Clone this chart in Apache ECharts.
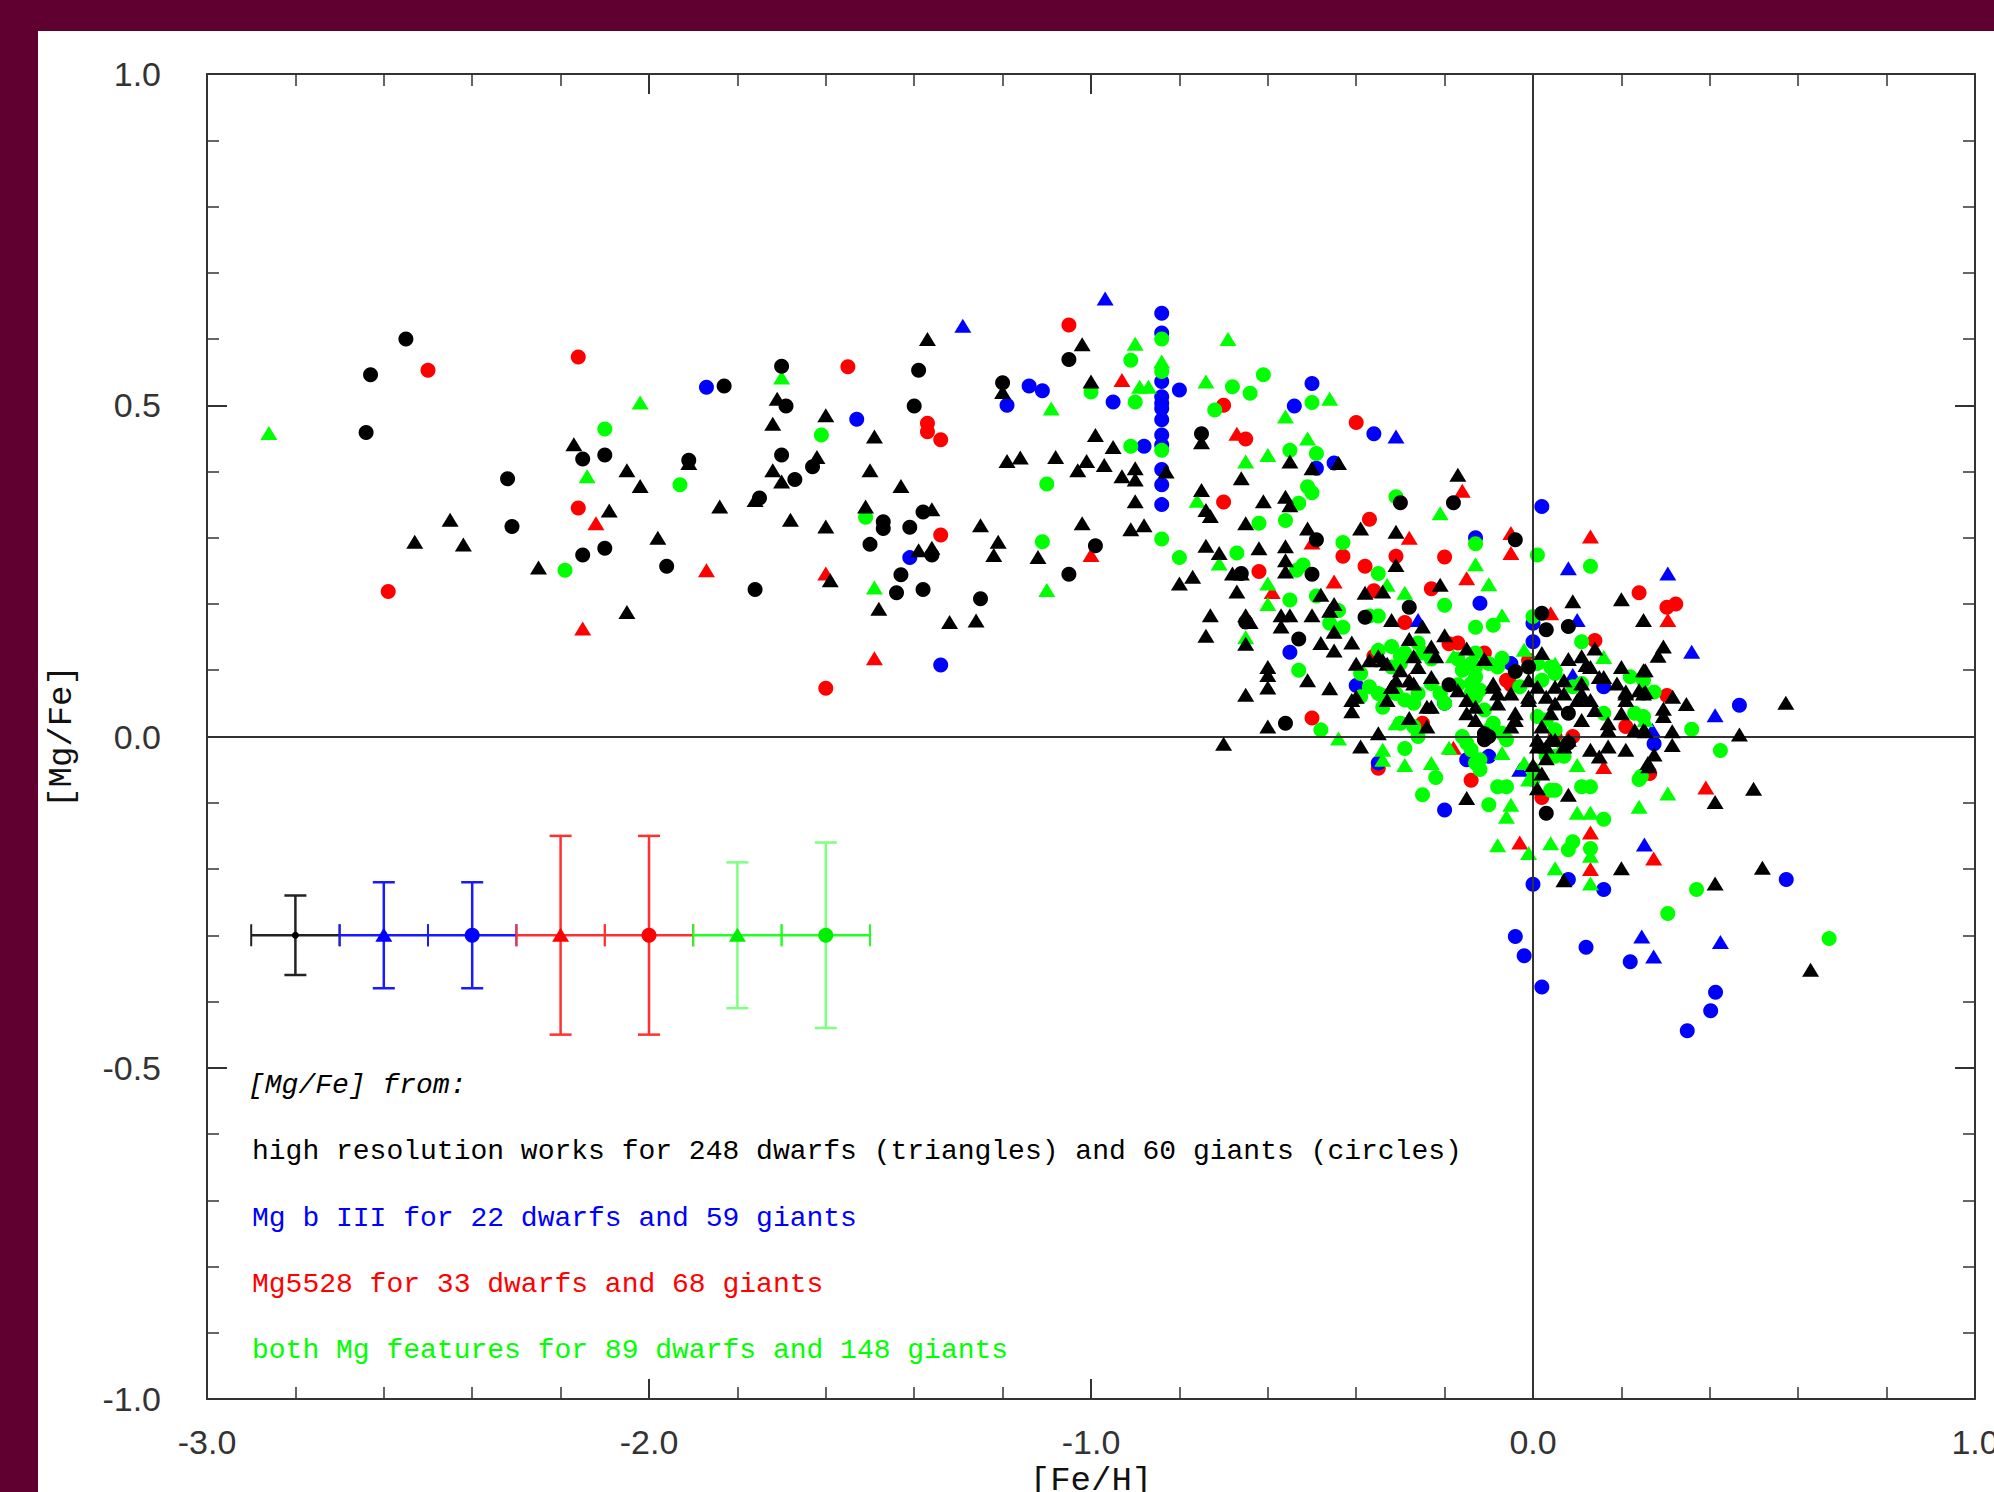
<!DOCTYPE html>
<html>
<head>
<meta charset="utf-8">
<script src="https://cdn.jsdelivr.net/npm/echarts@6/dist/echarts.min.js"></script>
<style>
html,body{margin:0;padding:0;background:#600030;}
#chart{width:1994px;height:1492px;}
</style>
</head>
<body>
<div id="chart"></div>
<script>
// ---------------- DATA ----------------
const xTickLabels = ['-3.0','-2.0','-1.0','0.0','1.0'];
const yTickLabels = ['-1.0','-0.5','0.0','0.5','1.0'];

// [Fe/H], [Mg/Fe]
const blackTriangles = [
[-2.17,0.441],[-2.05,0.402],[-2.02,0.378],[-2.09,0.341],[-2.45,0.327],[-2.53,0.294],[-2.42,0.290],[-2.25,0.255],[-2.05,0.188],[-1.98,0.30],
[-1.37,0.60],[-1.20,0.52],[-1.71,0.51],[-1.60,0.485],[-1.72,0.472],[-1.49,0.453],[-1.91,0.413],[-1.62,0.422],[-1.72,0.402],[-1.70,0.385],
[-1.50,0.402],[-1.43,0.378],[-1.19,0.416],[-1.16,0.421],[-1.76,0.357],[-1.84,0.347],[-1.51,0.347],[-1.36,0.343],[-1.68,0.327],[-1.60,0.317],
[-1.25,0.319],[-1.21,0.294],[-1.22,0.274],[-1.12,0.271],[-1.39,0.281],[-1.36,0.285],[-1.59,0.236],[-1.48,0.193],[-1.32,0.173],[-1.26,0.175],
[-1.02,0.592],[-1.00,0.536],[-0.99,0.455],[-0.95,0.437],[-0.75,0.444],[-0.55,0.415],[-0.50,0.405],[-0.44,0.413],[-1.08,0.422],[-1.03,0.402],
[-1.01,0.416],[-0.97,0.41],[-0.93,0.393],[-0.90,0.405],[-0.90,0.388],[-0.83,0.40],[-0.90,0.355],[-1.02,0.322],[-0.91,0.313],[-0.88,0.319],
[-0.75,0.372],[-0.74,0.342],[-0.73,0.333],[-0.66,0.39],[-0.61,0.355],[-0.56,0.362],[-0.55,0.349],[-0.65,0.322],[-0.51,0.314],[-0.74,0.288],
[-0.71,0.277],[-0.62,0.284],[-0.56,0.287],[-0.56,0.266],[-0.56,0.249],[-0.80,0.231],[-0.77,0.241],[-0.68,0.246],[-0.66,0.246],[-0.67,0.219],
[-0.48,0.214],[-0.45,0.20],[-0.73,0.183],[-0.65,0.183],[-0.57,0.183],[-0.55,0.183],[-0.50,0.183],[-0.46,0.19],
[-0.74,0.152],[-0.64,0.173],[-0.65,0.14],[-0.57,0.166],[-0.60,0.105],[-0.60,0.093],[-0.60,0.074],[-0.65,0.063],[-0.51,0.085],[-0.46,0.073],
[-0.60,0.015],[-0.70,-0.011],[-0.48,0.141],[-0.45,0.13],[-0.45,0.158],
[-0.17,0.395],[-0.39,0.314],[-0.31,0.309],[-0.31,0.259],[-0.38,0.217],[-0.34,0.219],[-0.21,0.229],[0.09,0.204],[0.20,0.207],[0.25,0.176],
[-0.32,0.176],[-0.25,0.166],[-0.41,0.142],[-0.28,0.147],[-0.23,0.136],[-0.20,0.153],[-0.15,0.133],[0.02,0.126],[0.14,0.133],[-0.40,0.11],
[-0.27,0.121],[-0.34,0.115],[-0.33,0.11],[-0.11,0.117],[0.08,0.117],[0.11,0.121],[0.12,0.108],[0.20,0.105],[0.25,0.10],[0.15,0.09],
[0.21,0.068],[-0.31,0.085],[-0.40,0.06],[-0.32,0.075],[-0.35,0.121],[-0.37,0.115],[-0.30,0.10],[-0.26,0.105],[-0.23,0.09],[-0.22,0.121],
[-0.28,0.085],[-0.01,0.085],[0.05,0.075],[0.07,0.085],[0.11,0.08],[0.13,0.105],[0.16,0.09],[0.07,0.065],[0.11,0.06],[-0.09,0.08],
[-0.08,0.065],[-0.01,0.06],[0.19,0.08],[0.24,0.07],[0.21,0.055],
[-0.39,-0.015],[-0.35,0.005],[-0.15,-0.093],[0.00,-0.043],[0.02,-0.056],[0.01,-0.078],[0.03,-0.033],[0.08,-0.088],[0.07,-0.217],[0.20,-0.199],
[-0.41,0.055],[-0.41,0.038],[-0.33,0.055],[-0.28,0.028],[-0.24,0.015],[-0.32,0.075],[-0.27,0.08],[-0.23,0.045],[-0.24,0.045],[-0.17,0.07],
[-0.15,0.055],[-0.15,0.035],[-0.13,0.045],[-0.13,0.025],[-0.09,0.075],[-0.08,0.05],[-0.05,0.065],[-0.04,0.035],[-0.04,0.025],[-0.05,0.015],
[-0.01,0.055],[0.01,0.075],[0.03,0.06],[0.04,0.035],[0.05,0.05],[0.02,0.015],[0.04,-0.005],[0.01,-0.005],[0.05,-0.005],[0.07,-0.015],
[0.08,-0.005],[0.10,0.055],[0.11,0.065],[0.13,0.055],[0.14,0.04],[0.11,0.025],[0.13,-0.02],[0.15,-0.03],[0.17,-0.015],[0.21,-0.02],
[0.17,0.02],[0.17,0.01],[0.20,0.035],[0.21,0.065],[0.23,0.01],[0.25,0.01],[0.25,0.065],[0.26,-0.04],[0.01,-0.015],[0.03,-0.015],
[0.295,0.136],[0.283,0.122],[0.254,0.10],[0.254,0.067],[0.316,0.06],[0.347,0.049],[0.295,0.042],[0.295,0.031],[0.572,0.051],[0.315,0.008],
[0.467,0.003],[0.254,0.008],[0.315,-0.013],[0.274,-0.027],[0.262,-0.045],[0.412,-0.099],[0.499,-0.079],[0.519,-0.198],[0.412,-0.222],[0.628,-0.352]
];
const blackCircles = [
[-2.55,0.60],[-2.63,0.546],[-2.64,0.459],[-2.15,0.419],[-2.10,0.425],[-2.32,0.389],[-2.31,0.317],[-2.15,0.274],[-2.10,0.284],
[-1.70,0.559],[-1.39,0.553],[-1.83,0.529],[-1.69,0.499],[-1.40,0.499],[-1.20,0.534],[-1.91,0.417],[-1.70,0.425],[-1.63,0.407],[-1.67,0.388],
[-1.75,0.36],[-1.47,0.324],[-1.47,0.314],[-1.41,0.316],[-1.38,0.339],[-1.50,0.29],[-1.36,0.274],[-1.96,0.257],[-1.43,0.244],[-1.76,0.222],
[-1.44,0.217],[-1.38,0.222],[-1.25,0.208],
[-1.05,0.569],[-0.75,0.457],[-0.99,0.288],[-1.05,0.245],[-0.49,0.297],[-0.50,0.245],[-0.66,0.246],
[-0.65,0.173],[-0.53,0.147],[-0.56,0.02],
[-0.30,0.353],[-0.18,0.353],[-0.04,0.297],[-0.28,0.195],[-0.38,0.18],[0.02,0.186],[0.03,0.161],[0.08,0.166],[-0.01,0.105],[-0.04,0.098],
[-0.19,0.078],[-0.10,0.0],[-0.11,0.004],[0.03,-0.116],[0.08,-0.01],[0.08,0.035],[-0.11,-0.005]
];
const blueTriangles = [
[-1.29,0.620],[-0.968,0.661],[-0.31,0.453],[0.08,0.254],[-0.26,0.176],[0.10,0.176],[0.09,0.093],[0.305,0.246],[0.359,0.128],[0.412,0.032],
[0.27,0.01],[0.252,-0.163],[0.246,-0.302],[0.424,-0.310],[0.273,-0.332],[-0.03,-0.05]
];
const blueCircles = [
[-1.87,0.527],[-1.14,0.529],[-1.11,0.522],[-1.19,0.50],[-1.53,0.479],[-1.41,0.27],[-1.34,0.108],[-0.84,0.639],[-0.84,0.609],[-0.84,0.536],
[-0.80,0.523],[-0.95,0.505],[-0.84,0.513],[-0.84,0.503],[-0.84,0.495],[-0.84,0.478],[-0.84,0.455],[-0.88,0.438],[-0.84,0.44],[-0.84,0.403],
[-0.84,0.38],[-0.84,0.35],[-0.50,0.533],[-0.54,0.499],[-0.49,0.405],[-0.45,0.413],[-0.55,0.127],[-0.36,0.457],[0.02,0.347],[-0.13,0.30],
[-0.12,0.201],[0.00,0.171],[0.00,0.143],[-0.05,0.11],[0.16,0.075],[-0.40,0.077],[-0.20,0.05],[-0.35,-0.04],[-0.20,-0.111],[-0.15,-0.035],
[-0.10,-0.03],[0.00,-0.223],[0.08,-0.216],[0.16,-0.231],[0.467,0.047],[0.274,-0.011],[0.573,-0.216],[0.413,-0.386],[0.402,-0.414],[0.349,-0.444],
[-0.04,-0.302],[-0.02,-0.331],[0.12,-0.318],[0.22,-0.34],[0.02,-0.378]
];
const redTriangles = [
[-2.12,0.322],[-2.15,0.163],[-1.87,0.251],[-1.60,0.246],[-1.49,0.118],[-0.93,0.538],[-1.00,0.274],[-0.67,0.457],[-0.50,0.293],[-0.45,0.234],
[-0.59,0.218],[-0.16,0.371],[-0.28,0.30],[-0.05,0.307],[-0.05,0.277],[0.13,0.302],[-0.15,0.239],[0.04,0.186],[-0.28,0.085],[-0.18,-0.017],
[-0.03,-0.16],[0.16,-0.046],[0.13,-0.145],[0.13,-0.20],[0.273,-0.184],[0.305,0.176],[0.391,-0.077]
];
const redCircles = [
[-2.50,0.553],[-2.16,0.573],[-2.16,0.345],[-2.59,0.219],[-1.55,0.558],[-1.37,0.473],[-1.37,0.46],[-1.34,0.448],[-1.34,0.304],[-1.60,0.073],
[-1.05,0.621],[-0.70,0.50],[-0.65,0.449],[-0.70,0.354],[-0.62,0.249],[-0.43,0.272],[-0.50,0.028],[-0.40,0.474],[-0.37,0.328],[-0.31,0.272],
[-0.20,0.271],[-0.38,0.257],[-0.23,0.223],[-0.29,0.172],[-0.17,0.141],[-0.11,0.126],[0.14,0.145],[0.24,0.217],[-0.36,0.121],[-0.19,0.14],
[-0.01,0.115],[-0.05,0.078],[-0.06,0.085],[-0.25,0.02],[0.05,0.0],[0.09,0.0],[0.21,0.015],[-0.35,-0.048],[-0.14,-0.066],[0.02,-0.092],
[0.323,0.20],[0.303,0.195],[0.303,0.062],[0.264,-0.056],[-0.36,0.22]
];
const greenTriangles = [
[-2.86,0.458],[-2.02,0.504],[-2.14,0.393],[-1.70,0.542],[-1.49,0.225],[-1.10,0.221],[-0.90,0.593],[-0.69,0.60],[-0.84,0.566],[-0.89,0.528],
[-0.87,0.528],[-0.74,0.536],[-0.46,0.51],[-0.56,0.483],[-1.09,0.495],[-0.51,0.45],[-0.60,0.425],[-0.65,0.415],[-0.76,0.356],[-0.71,0.261],
[-0.60,0.231],[-0.60,0.20],[-0.65,0.15],[-0.44,-0.003],[-0.21,0.337],[-0.13,0.26],[-0.10,0.23],[-0.33,0.229],[-0.29,0.217],[-0.07,0.183],
[-0.02,0.131],[-0.18,0.121],[0.05,0.11],[0.16,0.12],[-0.34,-0.02],[-0.34,-0.035],[-0.29,-0.043],[-0.23,-0.04],[-0.19,-0.017],[-0.07,-0.025],
[-0.05,-0.103],[-0.06,-0.121],[-0.08,-0.164],[-0.01,-0.176],[-0.02,-0.04],[-0.01,-0.065],[0.10,-0.043],[0.10,-0.115],[0.13,-0.115],[0.13,-0.18],
[0.04,-0.161],[0.05,-0.199],[0.13,-0.222],[0.24,-0.106],[0.254,0.025],[0.305,-0.086],[-0.31,0.02]
];
const greenCircles = [
[-2.10,0.464],[-2.19,0.251],[-1.61,0.455],[-1.93,0.380],[-1.10,0.381],[-1.51,0.331],[-1.11,0.294],[-0.84,0.60],[-0.91,0.568],[-0.84,0.551],
[-1.00,0.52],[-0.90,0.505],[-0.68,0.528],[-0.64,0.518],[-0.61,0.546],[-0.72,0.493],[-0.50,0.504],[-0.91,0.438],[-0.84,0.432],[-0.55,0.432],
[-0.49,0.427],[-0.53,0.352],[-0.51,0.377],[-0.50,0.368],[-0.62,0.322],[-0.56,0.326],[-0.84,0.298],[-0.80,0.27],[-0.43,0.293],[-0.67,0.277],
[-0.535,0.251],[-0.52,0.259],[-0.55,0.206],[-0.49,0.212],[-0.53,0.10],[-0.48,0.01],[-0.46,0.171],[-0.43,0.165],[-0.44,0.19],[-0.31,0.362],
[-0.13,0.291],[0.01,0.274],[0.13,0.257],[-0.35,0.246],[-0.20,0.198],[-0.37,0.182],[-0.35,0.182],[-0.13,0.165],[-0.09,0.168],[0.00,0.181],
[0.11,0.143],[-0.35,0.13],[-0.32,0.136],[-0.30,0.121],[-0.29,0.126],[-0.26,0.141],[-0.25,0.126],[-0.23,0.117],[-0.32,0.105],[-0.30,0.11],
[-0.17,0.117],[-0.14,0.11],[-0.13,0.126],[-0.10,0.11],[-0.08,0.105],[-0.07,0.118],[0.01,0.11],[0.04,0.105],[0.05,0.095],[0.02,0.085],
[-0.16,0.10],[-0.13,0.105],[-0.13,0.09],[0.25,0.085],[-0.23,0.08],[-0.21,0.065],[-0.17,0.078],[-0.14,0.065],[-0.12,0.07],[-0.39,0.095],
[-0.39,0.06],[-0.37,0.075],[-0.35,0.065],[0.22,0.09],[0.25,0.065],
[-0.34,0.062],[-0.34,0.044],[-0.31,0.065],[-0.29,0.055],[-0.27,0.05],[-0.26,0.065],[-0.27,0.015],[-0.30,0.02],[-0.26,0.0],[-0.21,0.065],
[-0.20,0.05],[-0.14,0.08],[-0.13,0.06],[-0.11,0.04],[-0.09,0.02],[-0.10,0.01],[-0.07,0.005],[-0.06,-0.005],[-0.03,0.075],[0.01,0.03],
[0.03,0.025],[0.05,0.01],[0.07,-0.015],[0.09,0.075],[0.11,0.08],[0.16,0.035],[0.23,0.035],[0.25,0.03],[0.24,-0.065],[-0.16,0.0],
[-0.15,-0.01],[-0.14,-0.02],[-0.12,-0.035],[-0.13,-0.04],[-0.12,-0.05],[0.0,-0.05],[0.0,-0.065],[0.03,-0.03],[0.05,-0.03],[0.07,-0.03],
[-0.29,-0.018],[-0.22,-0.062],[-0.25,-0.088],[-0.08,-0.076],[-0.06,-0.076],[-0.10,-0.103],[0.04,-0.081],[0.05,-0.081],[0.11,-0.076],[0.13,-0.076],
[0.16,-0.125],[0.09,-0.159],[0.08,-0.171],[0.13,-0.169],
[0.274,0.067],[0.359,0.011],[0.424,-0.021],[0.245,-0.06],[0.370,-0.231],[0.305,-0.267],[0.670,-0.305]
];

// typical error bars: centre x, centre y, half-width in x, half-height in y
const errCentersX = [-2.8,-2.6,-2.4,-2.2,-2.0,-1.8,-1.6];
const errCentersY = [-0.3,-0.3,-0.3,-0.3,-0.3,-0.3,-0.3];
const errHalfX    = [0.1,0.1,0.1,0.1,0.1,0.1,0.1];
const errHalfY    = [0.06,0.08,0.08,0.15,0.15,0.11,0.14];
const errMarkers  = ['dot','triangle','circle','triangle','circle','triangle','circle'];

const legendLines = [
  '[Mg/Fe] from:',
  'high resolution works for 248 dwarfs (triangles) and 60 giants (circles)',
  'Mg b III for 22 dwarfs and 59 giants',
  'Mg5528 for 33 dwarfs and 68 giants',
  'both Mg features for 89 dwarfs and 148 giants'
];

// ---------------- STYLE ----------------
const C_BLACK = '#000000', C_BLUE = '#0000ff', C_RED = '#ff0000', C_GREEN = '#00ff00';
const ERR_STYLE = [
  {h:'#222222', v:'#222222', m:'#000000'},
  {h:'#1a1aff', v:'#1a1aff', m:'#0000ff'},
  {h:'#1a1aff', v:'#1a1aff', m:'#0000ff'},
  {h:'#ff3030', v:'#ff3030', m:'#ff0000'},
  {h:'#ff3030', v:'#ff3030', m:'#ff0000'},
  {h:'#22ff22', v:'#7fff7f', m:'#00ee00'},
  {h:'#22ff22', v:'#7fff7f', m:'#00ee00'}
];
const MONO = '"Liberation Mono","DejaVu Sans Mono",monospace';
const SANS = '"Liberation Sans","Open Sans",sans-serif';
const TRI = [17,14], CIRC = 15;
const LEGEND_Y = [1087,1153,1220,1286,1352];

const chart = echarts.init(document.getElementById('chart'), null, {renderer:'svg'});

function axisCommon(showLabel){
  return {
    type:'value',
    axisLine:{show:true, onZero:false, lineStyle:{color:'#333', width:2}},
    axisTick:{show:true, inside:true, length:20, lineStyle:{color:'#333', width:2}},
    minorTick:{show:true, splitNumber:5, length:12, lineStyle:{color:'#333', width:1.5}},
    splitLine:{show:false},
    axisLabel:{show:showLabel, color:'#333', fontFamily:SANS, fontSize:34},
  };
}

const errData = errCentersX.map((x,i)=>[x, errCentersY[i], errHalfX[i], errHalfY[i], i]);

function renderErr(params, api){
  const x = api.value(0), y = api.value(1), ex = api.value(2), ey = api.value(3);
  const i = params.dataIndex;
  const st = ERR_STYLE[i];
  const c = api.coord([x,y]);
  const l = api.coord([x-ex,y]), r = api.coord([x+ex,y]);
  const t = api.coord([x,y+ey]), b = api.coord([x,y-ey]);
  const cap = 11, endH = 11;
  const ch = [
    {type:'line', shape:{x1:l[0],y1:l[1],x2:r[0],y2:r[1]}, style:{stroke:st.h, lineWidth:2.5}},
    {type:'line', shape:{x1:l[0],y1:l[1]-endH,x2:l[0],y2:l[1]+endH}, style:{stroke:st.h, lineWidth:2}},
    {type:'line', shape:{x1:r[0],y1:r[1]-endH,x2:r[0],y2:r[1]+endH}, style:{stroke:st.h, lineWidth:2}},
    {type:'line', shape:{x1:t[0],y1:t[1],x2:b[0],y2:b[1]}, style:{stroke:st.v, lineWidth:2.5}},
    {type:'line', shape:{x1:t[0]-cap,y1:t[1],x2:t[0]+cap,y2:t[1]}, style:{stroke:st.v, lineWidth:2.5}},
    {type:'line', shape:{x1:b[0]-cap,y1:b[1],x2:b[0]+cap,y2:b[1]}, style:{stroke:st.v, lineWidth:2.5}}
  ];
  const m = errMarkers[i];
  if (m === 'dot') ch.push({type:'circle', shape:{cx:c[0],cy:c[1],r:3.5}, style:{fill:st.m}});
  else if (m === 'circle') ch.push({type:'circle', shape:{cx:c[0],cy:c[1],r:7.5}, style:{fill:st.m}});
  else ch.push({type:'polygon', shape:{points:[[c[0],c[1]-7.5],[c[0]+8.5,c[1]+6.5],[c[0]-8.5,c[1]+6.5]]}, style:{fill:st.m}});
  return {type:'group', children:ch};
}

function scat(name, data, symbol, color, z){
  return {
    name, type:'scatter', data, symbol,
    symbolSize: symbol === 'triangle' ? TRI : CIRC,
    itemStyle:{color, opacity:1},
    z, silent:true, animation:false
  };
}

const legendGraphics = legendLines.map((txt,i)=>({
  type:'text',
  left: i===0 ? 248 : 252,
  top: LEGEND_Y[i] - 16,
  style:{
    text: txt,
    font: (i===0 ? 'italic ' : '') + '28px ' + MONO,
    fill: [ '#000', '#000', C_BLUE, C_RED, C_GREEN ][i]
  },
  z: 100
}));

const option = {
  backgroundColor:'#600030',
  animation:false,
  graphic:[
    {type:'rect', left:38, top:31, shape:{width:1956, height:1461}, style:{fill:'#ffffff'}, z:-10, silent:true},
    ...legendGraphics
  ],
  grid:{left:207, top:74, width:1768, height:1325, outerBoundsMode:'none', containLabel:false},
  xAxis:[
    Object.assign(axisCommon(true), {
      position:'bottom', min:-3, max:1, interval:1,
      axisLabel:{show:true, color:'#333', fontFamily:SANS, fontSize:34, margin:26,
        formatter:(v)=>xTickLabels[Math.round(v+3)]},
      name:'[Fe/H]', nameLocation:'middle', nameGap:64,
      nameTextStyle:{fontFamily:MONO, fontSize:34, color:'#111'}
    }),
    Object.assign(axisCommon(false), {position:'top', min:-3, max:1, interval:1})
  ],
  yAxis:[
    Object.assign(axisCommon(true), {
      position:'left', min:-1, max:1, interval:0.5,
      axisLabel:{show:true, color:'#333', fontFamily:SANS, fontSize:34, margin:46,
        formatter:(v)=>yTickLabels[Math.round((v+1)*2)]},
      name:'[Mg/Fe]', nameLocation:'middle', nameGap:128, nameRotate:90,
      nameTextStyle:{fontFamily:MONO, fontSize:34, color:'#111'}
    }),
    Object.assign(axisCommon(false), {position:'right', min:-1, max:1, interval:0.5})
  ],
  series:[
    Object.assign(scat('redCircles', redCircles, 'circle', C_RED, 2), {
      markLine:{silent:true, symbol:'none', animation:false, label:{show:false},
        lineStyle:{color:'#333', width:2, type:'solid'},
        data:[{xAxis:0},{yAxis:0}]}
    }),
    scat('redTriangles', redTriangles, 'triangle', C_RED, 2),
    scat('blueCircles', blueCircles, 'circle', C_BLUE, 3),
    scat('blueTriangles', blueTriangles, 'triangle', C_BLUE, 3),
    scat('greenCircles', greenCircles, 'circle', C_GREEN, 4),
    scat('greenTriangles', greenTriangles, 'triangle', C_GREEN, 4),
    scat('blackCircles', blackCircles, 'circle', C_BLACK, 5),
    scat('blackTriangles', blackTriangles, 'triangle', C_BLACK, 5),
    {type:'custom', name:'errors', data:errData, renderItem:renderErr, z:6, silent:true, animation:false}
  ]
};
chart.setOption(option);
</script>
</body>
</html>
